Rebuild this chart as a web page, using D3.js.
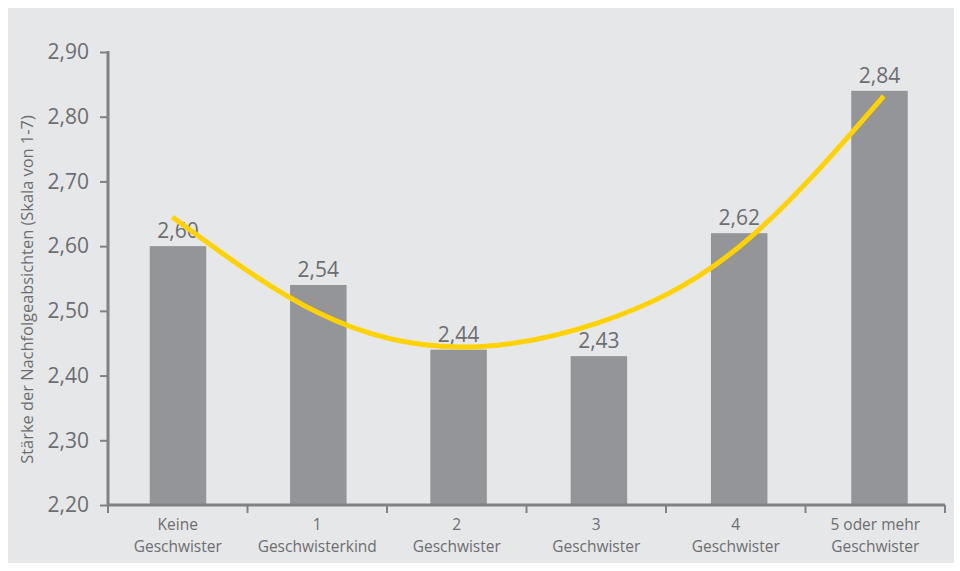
<!DOCTYPE html>
<html>
<head>
<meta charset="utf-8">
<script src="https://cdn.jsdelivr.net/npm/d3@7"></script>
<style>
  html, body { margin: 0; padding: 0; background: #ffffff; }
  svg { display: block; }
  text { font-family: "Open Sans", "DejaVu Sans", sans-serif; fill: #6d6e71; }
</style>
</head>
<body>
<svg id="chart" width="960" height="571"></svg>
<script>
// Categories (two-line labels) and mean values
const categories = [
  ["Keine", "Geschwister"],
  ["1", "Geschwisterkind"],
  ["2", "Geschwister"],
  ["3", "Geschwister"],
  ["4", "Geschwister"],
  ["5 oder mehr", "Geschwister"]
];
const values = [2.60, 2.54, 2.44, 2.43, 2.62, 2.84];
const valueLabels = ["2,60", "2,54", "2,44", "2,43", "2,62", "2,84"];

// Polynomial trend line, sampled along the category index
const trendIndex = [-0.04, 1, 2, 3, 4, 5.03];
const trendValues = [2.645, 2.497, 2.444, 2.482, 2.599, 2.832];

const yTicks = [2.2, 2.3, 2.4, 2.5, 2.6, 2.7, 2.8, 2.9];
const yTitle = "Stärke der Nachfolgeabsichten (Skala von 1-7)";

const svg = d3.select("#chart");

// panel background
svg.append("rect")
  .attr("x", 8).attr("y", 8)
  .attr("width", 946).attr("height", 555)
  .attr("fill", "#e6e7e8");

const plot = { left: 108, right: 945, top: 52, bottom: 505 };
const n = categories.length;
const step = (plot.right - plot.left) / n;

// bar centres run on a slightly wider pitch than the category ticks
const xc = d3.scaleLinear()
  .domain([0, n - 1])
  .range([178, 879.5]);
const barW = 56.5;

const y = d3.scaleLinear()
  .domain([2.2, 2.9])
  .range([plot.bottom, plot.top]);

// bars
svg.append("g").selectAll("rect")
  .data(values)
  .join("rect")
  .attr("x", (d, i) => xc(i) - barW / 2)
  .attr("width", barW)
  .attr("y", d => y(d))
  .attr("height", d => y(2.2) - y(d))
  .attr("fill", "#939598");

// value labels
svg.append("g").selectAll("text")
  .data(values)
  .join("text")
  .attr("x", (d, i) => xc(i))
  .attr("y", d => y(d) - 8)
  .attr("text-anchor", "middle")
  .attr("font-size", 21)
  .text((d, i) => valueLabels[i]);

// trend line
const trendPts = trendIndex.map((t, i) => [xc(t), y(trendValues[i])]);
svg.append("path")
  .attr("d", d3.line().curve(d3.curveNatural)(trendPts))
  .attr("fill", "none")
  .attr("stroke", "#ffd200")
  .attr("stroke-width", 5);

// y axis
const axisColor = "#808285";
const yAxis = svg.append("g")
  .attr("transform", `translate(${plot.left},0)`)
  .call(d3.axisLeft(y).tickValues(yTicks).tickSize(8).tickPadding(11)
    .tickFormat(d => d3.format(".2f")(d).replace(".", ",")));
yAxis.select(".domain").remove();
yAxis.selectAll(".tick line").attr("stroke", axisColor).attr("stroke-width", 2);
yAxis.selectAll(".tick text")
  .attr("font-size", 21)
  .attr("font-family", null)
  .attr("fill", "#6d6e71");
svg.append("line")
  .attr("x1", plot.left).attr("x2", plot.left)
  .attr("y1", plot.top - 1).attr("y2", plot.bottom + 1.5)
  .attr("stroke", axisColor).attr("stroke-width", 3);

// x axis
const xAxis = svg.append("g")
  .attr("transform", `translate(0,${plot.bottom})`);
xAxis.append("line")
  .attr("x1", plot.left).attr("x2", plot.right)
  .attr("stroke", axisColor).attr("stroke-width", 3);
xAxis.selectAll("line.tick")
  .data(d3.range(n + 1))
  .join("line")
  .attr("class", "tick")
  .attr("x1", d => plot.left + d * step)
  .attr("x2", d => plot.left + d * step)
  .attr("y1", 0).attr("y2", 8)
  .attr("stroke", axisColor).attr("stroke-width", 2);

const xl = xAxis.selectAll("text")
  .data(categories)
  .join("text")
  .attr("text-anchor", "middle")
  .attr("font-size", 15.5);
xl.append("tspan")
  .attr("x", (d, i) => plot.left + step * (i + 0.5)).attr("y", 25)
  .text(d => d[0]);
xl.append("tspan")
  .attr("x", (d, i) => plot.left + step * (i + 0.5)).attr("y", 47)
  .text(d => d[1]);

// y axis title
svg.append("text")
  .attr("transform", `translate(33,289.5) rotate(-90)`)
  .attr("text-anchor", "middle")
  .attr("font-size", 16.4)
  .text(yTitle);
</script>
</body>
</html>
